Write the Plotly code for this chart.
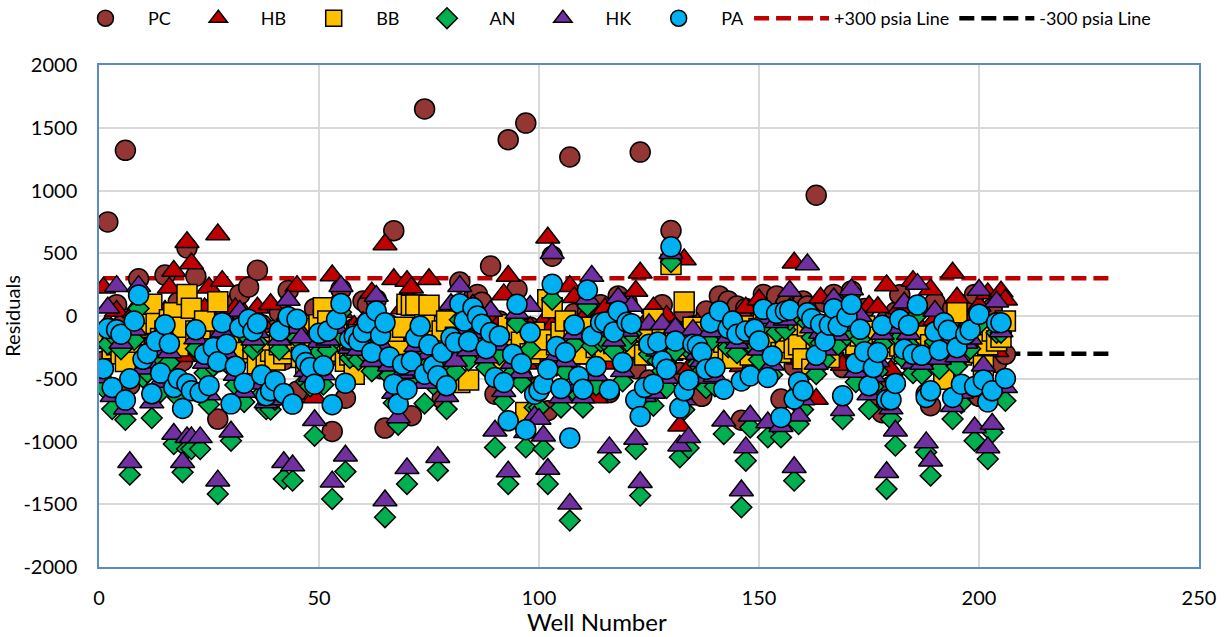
import plotly.graph_objects as go

wells = list(range(1, 207))
limit_x = [1, 230]
plus_line = [300, 300]
minus_line = [-300, -300]
y_ticks = [-2000, -1500, -1000, -500, 0, 500, 1000, 1500, 2000]
y_tick_labels = ["-2000", "-1500", "-1000", "-500", "0", "500", "1000", "1500", "2000"]

PC = [-360,750,-180,90,-80,1320,-550,-120,297,-60,
60,-130,20,-300,326,-90,-210,110,-358,543,
40,318,-290,-110,-400,70,-821,-190,-360,-40,
100,172,-170,230,-280,365,-70,-410,-240,-110,
30,-350,204,-160,-600,-90,-300,-480,60,-220,
40,-330,-920,80,212,-655,-140,-100,-380,120,
90,-250,130,-420,-893,-70,680,-300,-180,120,
-795,-90,-230,1650,60,-340,-140,-660,-20,-190,
-100,270,-60,-250,140,172,110,-130,398,-623,
-40,-280,1405,-210,212,-480,1537,-90,-320,-560,
-130,-755,477,-260,-80,-400,1267,20,-190,-520,
30,-120,-360,90,-240,-610,-50,160,-280,110,
-150,-420,1306,-90,-510,-30,-260,90,-340,681,
-120,-450,30,-530,-80,-200,-640,40,-170,-290,
160,-90,120,-300,80,-830,60,-210,-350,60,
172,-130,-260,160,-662,90,-40,-400,-620,120,
80,-180,962,-70,110,-240,172,-120,-411,50,
200,-330,-190,60,-520,-100,-710,-770,-30,-560,
30,170,-120,-280,60,-180,-390,-620,-715,110,
-230,-70,-480,60,-140,-300,90,-180,172,-640,
-90,-250,60,-370,-150,-305]

HB = [225,-60,-180,40,-240,-120,-300,30,90,-210,
-140,20,-260,-90,40,225,358,-150,-320,588,
419,-70,-210,60,225,-130,650,278,-90,-260,
60,-180,20,-240,-130,66,-60,-310,93,-220,
-100,-330,10,-200,238,-150,-280,-340,-650,-90,
-40,-190,323,-120,30,-260,-170,-80,-300,-50,
-130,185,20,-210,570,-90,292,-340,60,278,
225,-150,-40,-290,292,-180,-320,-70,-240,-20,
-160,100,-60,-200,90,40,-90,-270,-30,-320,
-60,172,318,-110,-20,-240,-380,-90,-330,-150,
-50,623,-80,-190,-310,-120,238,150,-260,-340,
20,-70,-650,-140,60,-380,-90,70,-210,-30,
-120,199,344,-60,-180,66,-240,-130,0,-310,
-90,-875,450,-420,-170,-60,-290,-130,-350,-60,
20,-310,-160,-90,-240,-400,66,-290,-120,130,
-60,-330,-190,-20,-280,-100,60,424,-340,-170,
-50,-230,-662,146,-140,-60,-300,-180,-390,-30,
80,-280,-120,-50,80,-340,70,-210,244,-430,
-90,60,-260,-130,278,-60,-350,-210,212,-30,
-320,-110,-60,344,146,-270,-150,-40,-330,80,
-160,180,-90,-280,193,130]

BB = [-132,-180,-260,-230,-300,-363,-210,-150,-90,-70,
20,93,-60,-180,-120,-30,26,-240,-90,172,
61,-120,-200,-40,-300,-260,114,-310,-340,-250,
-330,-170,-290,-120,-260,-380,-210,-330,-280,-350,
-230,-300,-140,-260,-200,-330,-380,-100,-290,-70,
66,-40,-230,-130,-280,-360,-310,-464,-150,-320,
-100,-180,-250,-130,-210,-270,-180,-280,-90,93,
85,88,-180,-70,85,-200,-260,-120,-40,-290,
-170,-530,-210,-509,-110,-270,-160,-300,-230,-150,
-190,-340,-70,-240,-110,-210,-768,-300,-130,-260,
-190,130,66,-230,-130,-40,-310,-120,-220,-300,
-170,-90,-250,-190,-280,-120,-220,-170,-290,-100,
-160,-250,-130,-310,-190,-26,-270,-150,-240,411,
-180,-260,111,-200,-90,-170,-280,-130,-240,-330,
-110,-210,-290,-337,-150,-240,-80,-310,-190,-100,
-60,-230,-140,-170,-290,-212,-120,-260,-230,-340,
-80,-424,-180,-260,-210,-331,-110,-50,-190,-90,
-130,-230,-160,-80,-280,-330,-170,-260,-120,-210,
-90,-240,-300,-140,-190,-320,-370,-160,-230,-280,
-170,-503,-110,-260,26,-310,-200,-240,-150,-290,
-397,-230,-120,-199,-170,-40]

AN = [-570,-225,-742,-180,-265,-827,-1264,-190,60,-490,
-450,-813,-350,-605,-220,-370,-1020,-650,-1245,-1060,
-1060,-260,-1060,-455,-705,-400,-1418,-205,-375,-994,
-550,-100,-685,-176,-270,-210,-620,-742,-746,-667,
-270,-1298,-80,-1312,-176,-290,-521,-560,-954,-288,
-547,-270,-1458,-176,30,-1240,-335,-310,-350,-280,
-203,-440,-60,-304,-1603,-476,-693,-866,-534,-1338,
-508,-322,-230,-697,-380,-547,-1232,-440,-742,-252,
-440,-30,-190,-354,-84,-150,-216,-410,-272,-1047,
-310,-680,-1338,-455,-57,-530,-1047,-265,-729,-730,
-1060,-1338,130,-394,-729,-441,-1630,-222,-632,-729,
80,-239,-553,-203,-198,-1166,-277,-40,-521,-200,
-141,-1060,-1431,-720,-305,-715,-357,-438,-574,430,
-279,-1126,-746,-1052,-305,-383,-441,-574,-203,-561,
-110,-940,-250,-190,-296,-1524,-1153,-888,-256,-349,
-97,-967,-468,-129,-967,-110,-32,-1312,-861,-746,
-54,-171,-463,-216,-349,-222,-22,-230,-821,-155,
13,-526,-186,-434,-742,-561,-441,-224,-1378,-821,
-1033,-176,-345,-224,-455,7,-463,-1086,-1272,-205,
-423,-203,-264,-821,-402,-693,-296,-261,-994,-67,
-589,-1140,-928,-133,-133,-676]

HK = [-490,66,-640,238,-215,-740,-1166,-110,238,-420,
-370,-690,-270,-525,-140,-290,-940,-570,-1166,-967,
-967,-180,-967,-375,-625,-320,-1312,-125,-295,-922,
-470,40,-605,-96,-190,-130,-540,-690,-666,-587,
-190,-1166,127,-1192,-96,-172,-441,-480,-830,-208,
-467,-190,-1320,-96,238,-1113,-255,-230,-270,-200,
-123,-360,160,-224,-1470,-396,-613,-808,-454,-1214,
-428,-242,-150,-534,-300,-467,-1126,-360,-640,93,
-358,238,-110,-274,-4,-70,-136,-330,40,-914,
-230,-600,-1240,-375,23,-450,-927,80,-800,-820,
-954,-1219,500,-314,-650,-361,-1497,-142,-552,-650,
137,318,-473,-123,-118,-1047,-197,146,-441,-120,
80,-980,-1325,-640,-66,-613,-277,-66,-494,500,
-93,-1033,-666,-967,-111,-303,-361,-494,-123,-481,
-30,-835,-170,-110,-216,-1391,-1047,-795,-176,-269,
-17,-848,-388,-49,-878,-30,199,-1206,-795,-666,
411,-91,-383,-136,-269,-142,140,-150,-750,-75,
212,-446,0,-354,-626,-481,-361,-144,-1245,-738,
-914,-96,106,-144,-375,254,-383,-1007,-1153,40,
-343,-123,-184,-719,-322,-613,-216,-181,-888,207,
-397,-1047,-861,114,-123,-568]

PA = [-420,-100,-570,-110,-145,-670,-500,-40,167,-345,
-300,-620,-200,-455,-70,-220,-570,-500,-737,-540,
-595,-110,-610,-305,-555,-250,-365,-53,-225,-700,
-400,-93,-535,-26,-120,-60,-470,-636,-596,-517,
-120,-617,-5,-702,-26,-305,-371,-410,-543,-138,
-397,-120,-707,-26,100,-535,-185,-160,-200,-130,
-53,-290,40,-154,-53,-326,-543,-702,-384,-583,
-358,-172,-80,-464,-230,-397,-477,-290,-556,-172,
-212,98,-40,-204,66,0,-66,-260,-132,-490,
-160,-530,-835,-305,93,-380,-906,-132,-623,-596,
-543,-424,252,-244,-578,-291,-973,-72,-482,-583,
207,-159,-403,-53,-48,-588,-127,40,-371,-50,
-61,-668,-800,-570,-225,-543,-207,-358,-424,551,
-199,-734,-596,-509,-225,-233,-291,-424,-53,-411,
40,-583,-100,-40,-146,-517,-120,-477,-106,-199,
53,-490,-318,21,-808,40,48,-662,-525,-596,
26,-21,-313,-66,-199,-72,58,-80,-636,-5,
93,-376,-106,-284,-556,-411,-291,-74,-668,-668,
-538,-26,-265,-74,-305,87,-313,-649,-596,-125,
-273,-53,-114,-649,-252,-543,-146,-111,-562,13,
-509,-684,-596,-53,-53,-498]

for s in (PC, HB, BB, AN, HK, PA):
    assert len(s) == len(wells)

FONT = "Lato"
OUT = dict(color="#000000", width=1.5)
series = [
    ("PC", PC, "circle", 20, "#943634", 1),
    ("HB", HB, "triangle-up", 21, "#C00000", 2),
    ("BB", BB, "square", 20, "#FFC000", 3),
    ("AN", AN, "diamond", 16, "#00B050", 4),
    ("HK", HK, "triangle-up", 21, "#7030A0", 5),
    ("PA", PA, "circle", 20, "#00B0F0", 6),
]

fig = go.Figure()
fig.add_trace(go.Scatter(x=limit_x, y=plus_line, mode="lines", name="+300 psia Line", legendrank=7,
                         line=dict(color="#C00000", width=4.5, dash="15px,7px")))
fig.add_trace(go.Scatter(x=limit_x, y=minus_line, mode="lines", name="-300 psia Line", legendrank=8,
                         line=dict(color="#000000", width=4.5, dash="15px,7px")))
for name, vals, sym, size, col, rank in series:
    fig.add_trace(go.Scatter(x=wells, y=vals, mode="markers", name=name, legendrank=rank,
                             marker=dict(symbol=sym, size=size, color=col, line=OUT)))

fig.update_layout(
    width=1225, height=637,
    margin=dict(l=99, r=26, t=65, b=70, pad=0),
    paper_bgcolor="white", plot_bgcolor="white",
    font=dict(family=FONT, size=20, color="#000000"),
    showlegend=True,
    legend=dict(orientation="h", x=0.0514, xref="container", xanchor="left",
                y=1.0, yanchor="top", yref="container",
                itemwidth=75, font=dict(family=FONT, size=18), bgcolor="rgba(0,0,0,0)",
                traceorder="normal"),
    xaxis=dict(range=[0, 250], dtick=50, tick0=0, showgrid=True, gridcolor="#D9D9D9", gridwidth=2,
               zeroline=False, showline=True, linecolor="#5B8BC4", linewidth=1.5, mirror=True,
               automargin=False,
               ticks="outside", ticklen=12, tickcolor="rgba(0,0,0,0)"),
    yaxis=dict(range=[-2000, 2000], tickmode="array", tickvals=y_ticks, ticktext=y_tick_labels,
               showgrid=True, gridcolor="#D9D9D9", gridwidth=2,
               zeroline=False, showline=True, linecolor="#5B8BC4", linewidth=1.5, mirror=True,
               automargin=False,
               ticks="outside", ticklen=16, tickcolor="rgba(0,0,0,0)",
               title=dict(text="Residuals", standoff=6, font=dict(family=FONT, size=20))),
    annotations=[dict(text="Well Number", xref="paper", yref="paper", x=0.453, y=-0.108,
                      xanchor="center", yanchor="middle", showarrow=False,
                      font=dict(family=FONT, size=24))],
)
fig.write_html("out.html", config={"displayModeBar": False},
               post_script="document.body.style.margin='0';")
